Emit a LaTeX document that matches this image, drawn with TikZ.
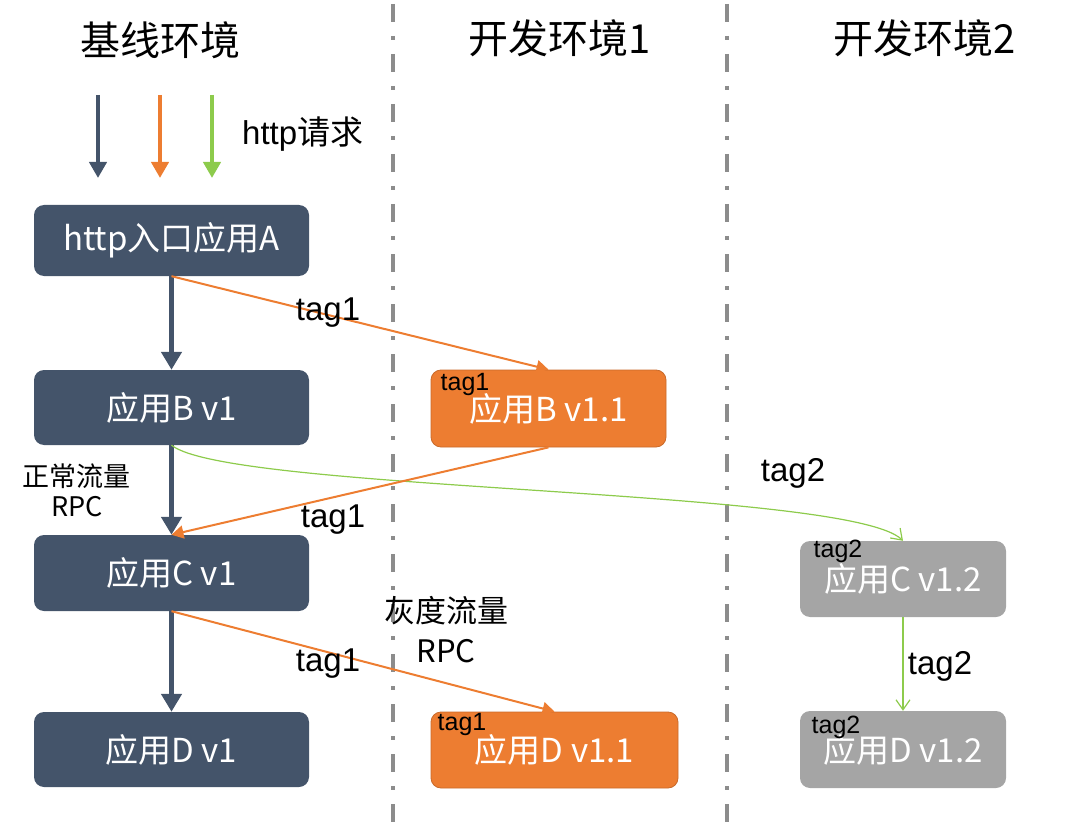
\documentclass[tikz,border=0pt]{standalone}
\usepackage{fontspec}
\setmainfont{Liberation Sans}
\newfontfamily\cjk{Noto Sans CJK SC}
\usetikzlibrary{arrows.meta}
\definecolor{slate}{HTML}{44546A}
\definecolor{orng}{HTML}{ED7D31}
\definecolor{greyb}{HTML}{A5A5A5}
\definecolor{grn}{HTML}{8DCB4C}
\definecolor{sep}{HTML}{8C8C8C}
\tikzset{
  box/.style={rounded corners=10pt, inner sep=0pt, text=white, font=\cjk\fontsize{33}{36}\selectfont},
  basebox/.style={box, fill=slate, minimum width=275pt, minimum height=75pt},
  obox/.style={box, fill=orng, draw=orng!85!black, line width=0.8pt},
  gbox/.style={box, fill=greyb, minimum width=206pt, minimum height=77pt},
  title/.style={font=\cjk\fontsize{40}{44}\selectfont},
  lbl/.style={font=\fontsize{33}{36}\selectfont},
  smalltag/.style={font=\fontsize{25}{28}\selectfont, inner sep=0pt},
  cjklbl/.style={font=\cjk\fontsize{27}{30}\selectfont, align=center},
  darrow/.style={draw=slate, line width=5pt, -{Triangle[length=18pt,width=20pt]}},
  oarrow/.style={draw=orng, line width=2pt, -{Triangle[length=12pt,width=13pt]}},
  garrow/.style={draw=grn, line width=1.2pt, -{Straight Barb[length=10pt,width=14pt]}},
  sepline/.style={draw=sep, line width=4pt, dash pattern=on 18pt off 14pt on 4pt off 14pt}
}
\begin{document}
\begin{tikzpicture}[x=1pt,y=-1pt]
\useasboundingbox (0,0) rectangle (1080,832);
% separators
\coordinate (s1t) at (393,4); \coordinate (s1b) at (393,832);
\coordinate (s2t) at (727,4); \coordinate (s2b) at (727,832);
\draw[sepline] (s1t) -- (s1b);
\draw[sepline] (s2t) -- (s2b);
% titles
\node[title] (t0) at (160,40) {基线环境};
\node[title] (t1) at (560,38) {开发环境1};
\node[title] (t2) at (925,38) {开发环境2};
% http request arrows
\coordinate (h1s) at (98,95); \coordinate (h1e) at (98,178);
\coordinate (h2s) at (160,95); \coordinate (h2e) at (160,178);
\coordinate (h3s) at (212,95); \coordinate (h3e) at (212,178);
\draw[draw=slate, line width=4pt, -{Triangle[length=16pt,width=17pt]}] (h1s) -- (h1e);
\draw[draw=orng, line width=4pt, -{Triangle[length=16pt,width=17pt]}] (h2s) -- (h2e);
\draw[draw=grn, line width=4pt, -{Triangle[length=16pt,width=17pt]}] (h3s) -- (h3e);
\node[font=\fontsize{33}{36}\selectfont, anchor=west, inner sep=0pt] (req) at (242,134) {http{\cjk 请求}};
% base nodes
\node[basebox, minimum height=71pt] (A) at (171.5,240.5) {http入口应用A};
\node[basebox] (B) at (171.5,407.5) {应用B v1};
\node[basebox, minimum height=76pt] (C) at (171.5,573) {应用C v1};
\node[basebox] (D) at (171.5,749.5) {应用D v1};
% dev1 nodes
\node[obox, minimum width=235pt, minimum height=77pt] (B1) at (548.5,408.5) {应用B v1.1};
\node[obox, minimum width=247pt, minimum height=76pt] (D1) at (554.5,750) {应用D v1.1};
% dev2 nodes
\node[gbox, minimum height=76pt] (C2) at (903,579) {应用C v1.2};
\node[gbox] (D2) at (903,749.5) {应用D v1.2};
% small tags
\node[smalltag] (tb1) at (465,384) {tag1};
\node[smalltag] (td1) at (462,724) {tag1};
\node[smalltag] (tc2) at (838,551) {tag2};
\node[smalltag] (td2) at (836,727) {tag2};
% base arrows
\draw[darrow] (A.south) -- (B.north);
\draw[darrow] (B.south) -- (C.north);
\draw[darrow] (C.south) -- (D.north);
% green
\draw[garrow] (B.south) .. controls (230,492) and (850,488) .. (C2.north);
\draw[garrow] (C2.south) -- (D2.north);
% orange
\draw[oarrow] (A.south) -- (B1.north);
\draw[oarrow] (B1.south) -- (C.north);
\draw[oarrow] (C.south) -- (D1.north);
% labels
\node[lbl] (l1) at (328,313) {tag1};
\node[lbl] (l2) at (333,520) {tag1};
\node[lbl] (l3) at (328,664) {tag1};
\node[lbl] (l4) at (793,473) {tag2};
\node[lbl] (l5) at (940,666) {tag2};
\node[cjklbl] (n1) at (77,490) {正常流量\\RPC};
\node[cjklbl, font=\cjk\fontsize{31}{40}\selectfont] (n2) at (446,630) {灰度流量\\RPC};
\end{tikzpicture}
\end{document}
